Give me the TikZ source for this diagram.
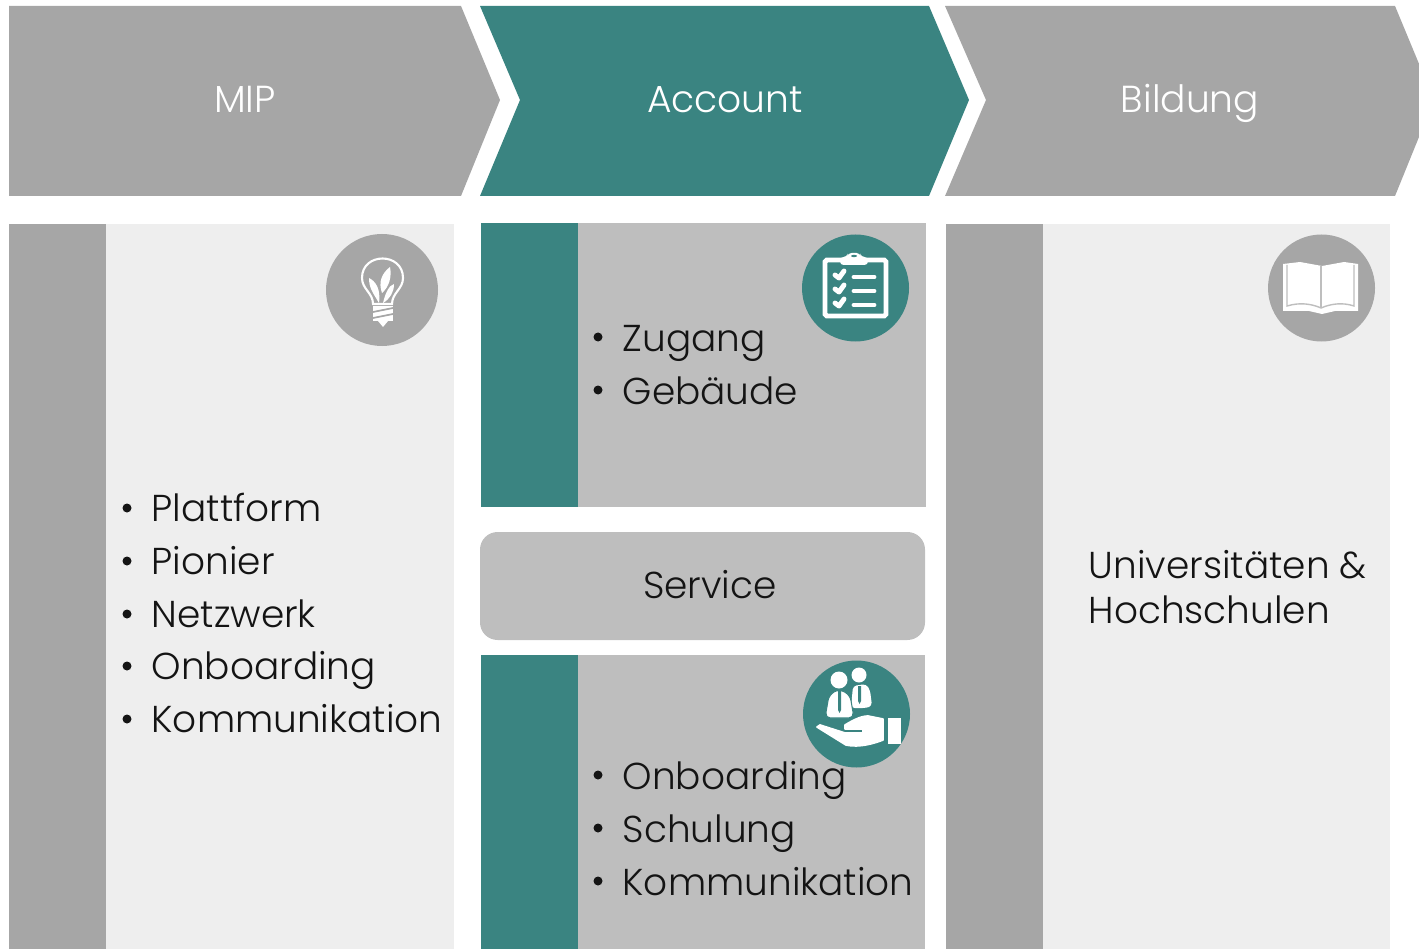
\documentclass[tikz,border=0pt]{standalone}
\usepackage{fontspec}
\setmainfont{Poppins Light}
\definecolor{tealbar}{HTML}{3A8481}
\definecolor{darkgray}{HTML}{A6A6A6}
\definecolor{midgray}{HTML}{BEBEBE}
\definecolor{lightgray}{HTML}{EEEEEE}
\tikzset{
    headtext/.style={text=white, anchor=base, inner sep=0pt, font=\fontsize{10.7}{13}\selectfont},
    bodytext/.style={text=black!92, anchor=base west, inner sep=0pt, font=\fontsize{10.65}{13}\selectfont},
    iconline/.style={draw=white, line width=1.4pt, line cap=round, line join=round}
}
\begin{document}
\begin{tikzpicture}[x=0.01cm, y=-0.01cm]
    \useasboundingbox (0,0) rectangle (1419,949);
    \clip (0,0) rectangle (1419,949);
    % header
    \fill [darkgray] (9,6) -- (461,6) -- (500,100) -- (461,196) -- (9,196) -- cycle;
    \fill [tealbar] (480,6) -- (929,6) -- (969,100) -- (929,196) -- (480,196) -- (520,100) -- cycle;
    \fill [darkgray] (945,6) -- (1395,6) -- (1434,100) -- (1395,196) -- (945,196) -- (986,100) -- cycle;
    \node [headtext] (mip) at (245,113) {MIP};
    \node [headtext] (account) at (725,113) {Account};
    \node [headtext] (bildung) at (1190,113) {Bildung};
    % columns
    \fill [lightgray] (106,224) rectangle (454,949);
    \fill [darkgray] (9,224) rectangle (106,949);
    \fill [midgray] (578,223) rectangle (926,507);
    \fill [tealbar] (481,223) rectangle (578,507);
    \fill [midgray, rounded corners=5pt] (480,532) rectangle (925,640);
    \node [text=black!92, font=\fontsize{10.65}{13}\selectfont] (service) at (710,585) {Service};
    \fill [midgray] (578,655) rectangle (925,949);
    \fill [tealbar] (481,655) rectangle (578,949);
    \fill [lightgray] (1043,224) rectangle (1390,949);
    \fill [darkgray] (946,224) rectangle (1043,949);
    % left list
    \foreach \y/\name/\txt in {521/plattform/Plattform, 574/pionier/Pionier, 627/netzwerk/Netzwerk, 679/onboardingA/Onboarding, 732/kommA/Kommunikation}{
        \node [bodytext] (\name) at (151,\y) {\txt};
        \fill [black!92] (127,\y-13) circle (4.5);
    }
    % account lists
    \foreach \y/\name/\txt in {351/zugang/Zugang, 404/gebaeude/Gebäude, 789/onboardingB/Onboarding, 842/schulung/Schulung, 895/kommB/Kommunikation}{
        \node [bodytext] (\name) at (622,\y) {\txt};
        \fill [black!92] (598,\y-14) circle (4.5);
    }
    % right text
    \node [bodytext] (uni) at (1088,578) {Universitäten \&};
    \node [bodytext] (hochschulen) at (1088,623) {Hochschulen};
    % bulb icon
    \fill [darkgray] (382,290) circle (56);
    \draw [white, line width=0.6pt] (373,304) .. controls (373,293) and (362,289) .. (362,278) .. controls (362,252) and (403,252) .. (403,278) .. controls (403,289) and (392,293) .. (392,304) -- cycle;
    \fill [white] (373,306) rectangle (393,321);
    \fill [white] (378,321) -- (388,321) -- (383,327) -- cycle;
    \foreach \y in {310,316}{
        \draw [darkgray, line width=0.5pt] (373,\y+2) -- (393,\y-2);
    }
    \fill [white] (379,303) .. controls (373,293) and (369,288) .. (369,278) .. controls (375,281) and (381,288) .. (379,303) -- cycle;
    \fill [white] (382,293) .. controls (378,282) and (382,273) .. (390,267) .. controls (392,277) and (389,287) .. (382,293) -- cycle;
    \fill [white] (383,303) .. controls (385,294) and (389,285) .. (394,284) .. controls (394,292) and (390,299) .. (383,303) -- cycle;
    % clipboard icon
    \fill [tealbar] (855.5,288) circle (53.5);
    \draw [white, line width=1.4pt, rounded corners=0.5pt] (825,260) rectangle (886,316);
    \fill [white, rounded corners=1pt] (840,265) -- (840,257) -- (847,257) -- (848,253) -- (860,253) -- (861,257) -- (868,257) -- (868,265) -- cycle;
    \fill [tealbar] (854,256) ellipse (3 and 1.2);
    \foreach \y in {275,289,303}{
        \draw [iconline] (835,\y) -- (839,\y+3) -- (844,\y-4);
        \draw [iconline] (854,\y+2) -- (874,\y+2);
    }
    % service icon
    \fill [tealbar] (856.5,714) circle (53.5);
    \fill [white] (859,675) circle (7.5);
    \fill [white, rounded corners=1pt] (851,708) -- (853,686) -- (866,684) -- (870,690) -- (872,706) -- (866,708) -- cycle;
    \fill [tealbar] (858,686) -- (861,686) -- (861,701) -- (859.5,704) -- (858,701) -- cycle;
    \fill [white] (839,680) circle (8.5);
    \draw [tealbar, line width=0.3pt, fill=white, rounded corners=1.5pt] (825,718) -- (829,695) -- (839,689) -- (850,695) -- (854,718) -- cycle;
    \fill [tealbar] (838,690) -- (841,690) -- (841,710) -- (839.5,713) -- (838,710) -- cycle;
    \filldraw [white, line width=0.5pt, line join=round] (817,727) -- (846,745) .. controls (860,748) and (875,743) .. (883,740) -- (883,719) -- (868,716) .. controls (860,716) and (850,722) .. (845,725) -- (845,729) -- (863,729) -- (863,733) -- (845,733) -- (820,725) -- cycle;
    \fill [white] (888,718) rectangle (901,744);
    % book icon
    \fill [darkgray] (1321.5,288) circle (53.5);
    \fill [white] (1283,264) -- (1300,262) -- (1322,266) -- (1344,262) -- (1358,264) -- (1358,311) -- (1335,311) -- (1322,314) -- (1309,311) -- (1283,311) -- cycle;
    \draw [midgray, line width=0.4pt] (1287,265) -- (1287,306) .. controls (1300,302) and (1312,304) .. (1321,308) .. controls (1330,304) and (1342,302) .. (1354,306) -- (1354,265);
    \draw [midgray, line width=0.7pt] (1321,266) -- (1321,308);
\end{tikzpicture}
\end{document}
